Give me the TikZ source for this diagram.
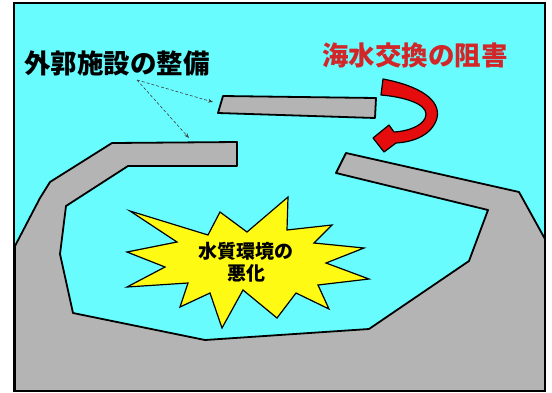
\documentclass[tikz,border=0pt]{standalone}
\usepackage{fontspec}
\newfontfamily\jpfont{Noto Sans CJK JP}
\usetikzlibrary{arrows.meta}
\definecolor{sea}{RGB}{104,252,255}
\definecolor{land}{RGB}{180,180,180}
\definecolor{warn}{RGB}{210,38,40}
\definecolor{flow}{RGB}{228,12,12}
\definecolor{burst}{RGB}{255,250,20}
\begin{document}
\begin{tikzpicture}[x=1pt, y=-1pt,
  land/.style = {fill=land, draw=black, line width=1.8pt, line join=round},
  title/.style = {font=\jpfont\bfseries\fontsize{26.5}{31}\selectfont, inner sep=0pt},
  pointer/.style = {densely dashed, draw=black!75, line width=0.6pt, -{Stealth[length=5pt]}}
  ]
  \useasboundingbox (0,0) rectangle (552,392);
  \fill[sea] (14,3) rectangle (545,391);
  % harbour with both breakwaters
  \draw[land] (237,142) -- (112,143) -- (50,182) -- (40,198) -- (15,246)
    -- (15,391) -- (545,391) -- (545,239) -- (519,192) -- (346,153)
    -- (336,173) -- (488,210) -- (469,261) -- (369,329) -- (205,340)
    -- (73,313) -- (60,254) -- (66,206) -- (128,166) -- (237,166) -- cycle;
  % detached breakwater
  \draw[land] (223,96) -- (376,98) -- (375,118) -- (218,113) -- cycle;
  % poor water quality
  \draw[fill=burst, line width=1.2pt, line join=miter]
    (130,211) -- (208,235) -- (220,212) -- (247,232) -- (288,197)
    -- (287,230) -- (332,225) -- (314,243) -- (364,248) -- (326,263)
    -- (369,279) -- (318,285) -- (329,309) -- (296,293) -- (277,318)
    -- (243,290) -- (222,328) -- (210,293) -- (180,307) -- (188,283)
    -- (127,287) -- (165,267) -- (127,252) -- (177,242) -- cycle;
  \node[align=center, font=\jpfont\bfseries\fontsize{19}{22}\selectfont, inner sep=0pt]
    (quality) at (246,262) {水質環境の\\悪化};
  % blocked exchange
  \draw[fill=flow, draw=black, line width=1.2pt, line join=round]
    (383,79) .. controls (420,86) and (441,100) .. (437,118)
    .. controls (432,135) and (414,142) .. (396,143) -- (384,152)
    -- (373,138) -- (389,125) -- (394,132)
    .. controls (411,131) and (426,124) .. (426,114)
    .. controls (426,104) and (405,97) .. (381,95) -- cycle;
  \node[title, text=warn] (exchange) at (415,55) {海水交換の阻害};
  \node[title] (facility) at (117,63) {外郭施設の整備};
  \coordinate (src) at (137,80);
  \coordinate (tipA) at (213,102);
  \coordinate (tipB) at (189,138);
  \draw[pointer] (src) -- (tipA);
  \draw[pointer] (src) -- (tipB);
  \draw[line width=1.8pt] (14,3) rectangle (545,391);
\end{tikzpicture}
\end{document}
